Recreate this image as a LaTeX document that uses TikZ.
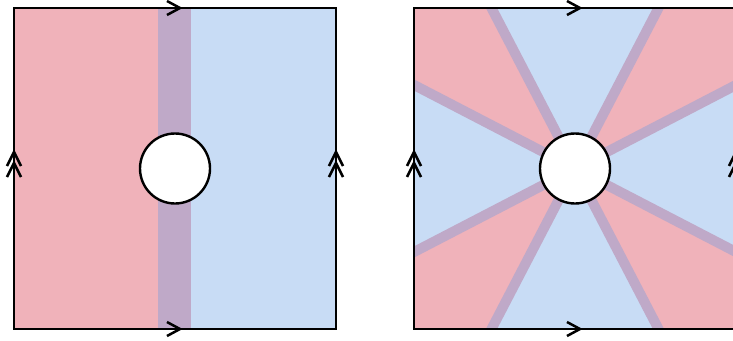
\documentclass[tikz,border=0pt]{standalone}
\usetikzlibrary{calc}
\definecolor{pinkR}{RGB}{240,178,186}
\definecolor{blueR}{RGB}{200,220,245}
\definecolor{purpR}{RGB}{191,169,200}
\tikzset{
  x=1pt,y=-1pt,
  edgeline/.style={line width=2.2pt,draw=black},
  chevline/.style={line width=2.5pt,draw=black,line join=miter},
  chevR/.pic={\draw[chevline] (-13,-7)--(0,0)--(-13,7);},
  chevUU/.pic={\draw[chevline] (-7,14)--(0,0)--(7,14);
               \draw[chevline] (-7,25)--(0,11)--(7,25);},
  hole/.style={circle,draw=black,fill=white,line width=2.4pt,minimum size=70pt,inner sep=0pt},
  seam/.style={draw=purpR,line width=10pt}
}
\begin{document}
\begin{tikzpicture}
\clip (0,0) rectangle (733,340);
\fill[white] (0,0) rectangle (733,340);
% ---------- left square ----------
\fill[pinkR] (14,8) rectangle (158.3,329);
\fill[purpR] (158.3,8) rectangle (191.3,329);
\fill[blueR] (191.3,8) rectangle (336,329);
\draw[edgeline] (14,8) rectangle (336,329);
\node[hole] (holeL) at (175,168.5) {};
\pic at (180,8) {chevR};
\pic at (180,329) {chevR};
\pic at (14,152) {chevUU};
\pic at (336,152) {chevUU};
% ---------- right square ----------
\coordinate (c) at (575,168.5);
\begin{scope}
\clip (414,8) rectangle (736,329);
\fill[blueR] (414,8) rectangle (736,329);
\fill[pinkR] (c) -- (414,85) -- (414,8) -- (491.5,8) -- cycle;
\fill[pinkR] (c) -- (658.5,8) -- (736,8) -- (736,85) -- cycle;
\fill[pinkR] (c) -- (736,252) -- (736,329) -- (658.5,329) -- cycle;
\fill[pinkR] (c) -- (491.5,329) -- (414,329) -- (414,252) -- cycle;
\coordinate (p1) at (414,85);   \coordinate (q1) at (736,252);
\coordinate (p2) at (414,252);  \coordinate (q2) at (736,85);
\coordinate (p3) at (491.5,8);  \coordinate (q3) at (658.5,329);
\coordinate (p4) at (658.5,8);  \coordinate (q4) at (491.5,329);
\foreach \i in {1,2,3,4}{
  \draw[seam] ($(c)!1.3!(p\i)$) -- ($(c)!1.3!(q\i)$);
}
\end{scope}
\draw[edgeline] (414,8) rectangle (736,329);
\node[hole] (holeR) at (c) {};
\pic at (580,8) {chevR};
\pic at (580,329) {chevR};
\pic at (414,152) {chevUU};
\pic at (736,152) {chevUU};
\end{tikzpicture}
\end{document}
